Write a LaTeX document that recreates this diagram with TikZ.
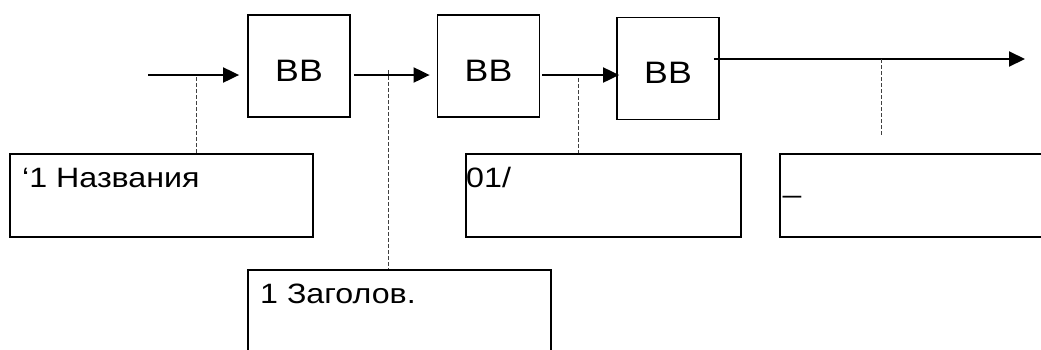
\documentclass[tikz,border=0pt]{standalone}
\usepackage{graphicx}
\usepackage{fontspec}
\setmainfont{Liberation Sans}
\usetikzlibrary{arrows.meta}
\newcommand\wide[1]{\scalebox{1.15}[1]{#1}}

\begin{document}
\begin{tikzpicture}[x=1pt,y=-1pt,
    blk/.style={draw,line width=1.8pt,minimum width=102pt,minimum height=102pt,
      inner sep=0pt,text height=30pt,text depth=0pt,font=\fontsize{31}{37}\selectfont},
    lbl/.style={draw,line width=1.8pt,minimum width=303pt,minimum height=83pt,inner sep=0pt},
    txt/.style={anchor=base west,inner sep=0pt,font=\fontsize{28}{34}\selectfont},
    arr/.style={-{Triangle[length=16pt,width=15pt]},line width=2pt},
    leader/.style={black!75,line width=0.8pt,dash pattern=on 4pt off 2pt}]
    \clip (0,0) rectangle (1041,349);
    \node[blk] (b1) at (299,66) {\wide{BB}};
    \node[blk] (b2) at (488.5,66) {\wide{BB}};
    \node[blk] (b3) at (668,68.5) {\wide{BB}};
    \node[lbl] (n1) at (161.5,195.5) {};
    \node[lbl,minimum width=275pt] (n2) at (603.5,195.5) {};
    \node[lbl] (n3) at (399.5,311.5) {};
    \node[lbl] (n4) at (931.5,195.5) {};
    \node[txt] (t1) at (22,187.5) {\wide{‘1 Названия}};
    \node[txt] (t2) at (466,187.5) {\wide{01/}};
    \node[txt] (t3) at (260,303.5) {\wide{1 Заголов.}};
    \node[txt] (t4) at (783,192) {\wide{\_}};
    \coordinate (in) at (148,75);
    \coordinate (out) at (1025,59);
    \draw[arr,shorten >=8pt] (in) -- (in -| b1.west);
    \draw[arr,shorten <=3pt,shorten >=7pt] (b1.east |- in) -- (b2.west |- in);
    \draw[arr,shorten <=2pt,shorten >=-3pt] (b2.east |- in) -- (b3.west |- in);
    \draw[arr] ([xshift=-6pt]b3.east |- out) -- (out);
    \coordinate (p1) at (196,77);
    \coordinate (p2) at (388,70);
    \coordinate (p3) at (578,78);
    \coordinate (p4) at (881,59);
    \coordinate (q4) at (881,136);
    \draw[leader] (p1) -- (p1 |- n1.north);
    \draw[leader] (p2) -- (p2 |- n3.north);
    \draw[leader] (p3) -- (p3 |- n2.north);
    \draw[leader] (p4) -- (q4);
\end{tikzpicture}
\end{document}
